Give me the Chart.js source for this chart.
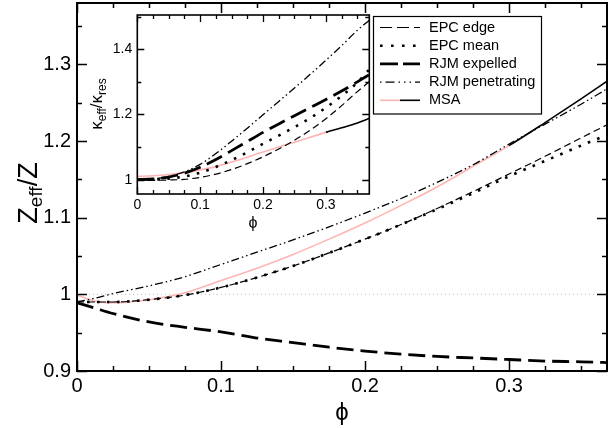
<!DOCTYPE html>
<html>
<head>
<meta charset="utf-8">
<script src="https://cdn.jsdelivr.net/npm/chart.js@4.4.0/dist/chart.umd.min.js"></script>
<style>
    body { margin: 0; background: #fff; }
    #wrap { position: relative; width: 608px; height: 428px; }
    #main { position: absolute; left: 0; top: 0; }
    #inset { position: absolute; left: 80px; top: 8px; }
</style>
</head>
<body>
<div id="wrap">
    <canvas id="main" width="608" height="428"></canvas>
    <canvas id="inset" width="295" height="232"></canvas>
</div>
<script>
// Main plot: Z_eff/Z vs phi
const phi = [0, 0.0125, 0.025, 0.05, 0.075, 0.1, 0.125, 0.15, 0.175, 0.2, 0.225, 0.25, 0.275, 0.3, 0.325, 0.35, 0.368];
const epcEdge = [0.99, 0.99, 0.99, 0.993, 0.999, 1.009, 1.022, 1.037, 1.054, 1.072, 1.091, 1.112, 1.134, 1.157, 1.18, 1.204, 1.221];
const epcMean = [0.99, 0.99, 0.99, 0.993, 0.999, 1.009, 1.022, 1.037, 1.054, 1.072, 1.091, 1.111, 1.132, 1.154, 1.174, 1.194, 1.208];
const rjmExpelled = [0.989, 0.982, 0.975, 0.964, 0.957, 0.951, 0.943, 0.937, 0.931, 0.926, 0.922, 0.919, 0.917, 0.915, 0.913, 0.912, 0.911];
const rjmPenetrating = [0.99, 0.995, 1.001, 1.011, 1.023, 1.039, 1.055, 1.071, 1.088, 1.106, 1.125, 1.146, 1.169, 1.196, 1.222, 1.248, 1.268];
const msa = [0.999, 0.991, 0.989, 0.993, 1.002, 1.018, 1.034, 1.052, 1.072, 1.093, 1.116, 1.140, 1.167, 1.194, 1.224, 1.255, 1.278];

// Inset: kappa_eff/kappa_res vs phi
const phiIn = [0, 0.025, 0.05, 0.075, 0.1, 0.125, 0.15, 0.175, 0.2, 0.225, 0.25, 0.275, 0.3, 0.325, 0.35, 0.369];
const inEpcEdge = [1.0, 0.998, 0.999, 1.001, 1.007, 1.017, 1.031, 1.049, 1.07, 1.094, 1.121, 1.152, 1.187, 1.227, 1.27, 1.30];
const inEpcMean = [1.0, 1.0, 1.003, 1.01, 1.021, 1.039, 1.06, 1.084, 1.11, 1.135, 1.161, 1.189, 1.221, 1.257, 1.298, 1.338];
const inRjmExpelled = [1.0, 1.002, 1.008, 1.02, 1.038, 1.062, 1.089, 1.117, 1.145, 1.171, 1.196, 1.221, 1.246, 1.272, 1.3, 1.322];
const inRjmPenetrating = [1.0, 1.002, 1.01, 1.024, 1.047, 1.08, 1.118, 1.158, 1.199, 1.24, 1.281, 1.323, 1.366, 1.411, 1.458, 1.489];
const inMsa = [1.01, 1.012, 1.016, 1.022, 1.03, 1.04, 1.054, 1.069, 1.085, 1.1, 1.115, 1.13, 1.145, 1.159, 1.174, 1.188];

// MSA drawn pink up to here, black beyond
const msaSwitch = 0.3;

// Ticks
const mainXTicks = [0, 0.1, 0.2, 0.3];
const mainXLabels = ['0', '0.1', '0.2', '0.3'];
const mainYTicks = [0.9, 1.0, 1.1, 1.2, 1.3];
const mainYLabels = ['0.9', '1', '1.1', '1.2', '1.3'];
const inXTicks = [0, 0.1, 0.2, 0.3];
const inXLabels = ['0', '0.1', '0.2', '0.3'];
const inYTicks = [1.0, 1.2, 1.4];
const inYLabels = ['1', '1.2', '1.4'];

const FONT = '"Liberation Sans", Arial, Helvetica, sans-serif';
const PINK = '#ffb4b4';

const styles =
{
    epcEdge: {width: 1.2, dash: [7, 4], legendDash: [12, 5]}
    ,epcMean: {width: 2.6, dash: [2.6, 7.4], legendDash: [2.6, 8.4]}
    ,rjmExpelled: {width: 2.8, dash: [17, 7], legendDash: [18, 5]}
    ,rjmPenetrating: {width: 1.3, dash: [8, 3, 1.5, 3, 1.5, 3], legendDash: [1.5, 4, 9, 4, 1.5, 4, 1.5, 4]}
    ,msa: {width: 1.6, dash: []}
};

const pts = (xs, ys) => xs.map((x, i) => ({x: x, y: ys[i]}));

const lineSet = (label, data, st, order) => (
{
    label: label
    ,data: data
    ,borderColor: '#000'
    ,borderWidth: st.width
    ,borderDash: st.dash
    ,borderCapStyle: 'butt'
    ,pointRadius: 0
    ,cubicInterpolationMode: 'monotone'
    ,fill: false
    ,order: order
});

const msaSet = (data) =>
{
    let ds = lineSet('MSA', data, styles.msa, 8);
    ds.borderColor = PINK;
    ds.segment = {borderColor: c => (c.p0.parsed.x >= msaSwitch - 1e-9 ? '#000' : PINK)};
    return ds;
};

// Text with subscripts
const drawRich = (ctx, parts, x, y, rot) =>
{
    ctx.save();
    ctx.translate(x, y);
    if(rot) ctx.rotate(rot);
    ctx.textBaseline = 'alphabetic';
    ctx.textAlign = 'left';
    ctx.fillStyle = '#000';
    let total = 0;
    parts.forEach(p => { ctx.font = p.size + 'px ' + FONT; p.w = ctx.measureText(p.t).width; total += p.w; });
    let cx = -total / 2;
    parts.forEach(p => { ctx.font = p.size + 'px ' + FONT; ctx.fillText(p.t, cx, p.dy || 0); cx += p.w; });
    ctx.restore();
};

// Frame with inward ticks on all four sides
const framePlugin =
{
    id: 'frame'
    ,beforeDatasetsDraw(chart)
    {
        const ca = chart.chartArea;
        chart.ctx.save();
        chart.ctx.fillStyle = '#fff';
        chart.ctx.fillRect(ca.left, ca.top, ca.width, ca.height);
        chart.ctx.restore();
    }
    ,afterDatasetsDraw(chart, args, o)
    {
        const ctx = chart.ctx, ca = chart.chartArea, sx = chart.scales.x, sy = chart.scales.y;
        ctx.save();
        ctx.strokeStyle = '#000';
        ctx.lineWidth = o.tickWidth;
        ctx.setLineDash([]);
        ctx.beginPath();
        for(let k = Math.ceil(sx.min / o.xMinor - 1e-6); k * o.xMinor <= sx.max + 1e-9; k++)
        {
            const len = (k % o.xEvery === 0) ? o.major : o.minor;
            const px = Math.round(sx.getPixelForValue(k * o.xMinor)) + 0.5;
            ctx.moveTo(px, ca.bottom); ctx.lineTo(px, ca.bottom - len);
            ctx.moveTo(px, ca.top); ctx.lineTo(px, ca.top + len);
        }
        for(let k = Math.ceil(sy.min / o.yMinor - 1e-6); k * o.yMinor <= sy.max + 1e-9; k++)
        {
            const len = (k % o.yEvery === 0) ? o.major : o.minor;
            const py = Math.round(sy.getPixelForValue(k * o.yMinor)) + 0.5;
            ctx.moveTo(ca.left, py); ctx.lineTo(ca.left + len, py);
            ctx.moveTo(ca.right, py); ctx.lineTo(ca.right - len, py);
        }
        ctx.stroke();
        ctx.lineWidth = o.frameWidth;
        ctx.strokeRect(ca.left, ca.top, ca.width, ca.height);
        ctx.restore();
    }
    ,afterDraw(chart, args, o)
    {
        (o.titles || []).forEach(t => drawRich(chart.ctx, t.parts, t.x, t.y, t.rot));
    }
};

// Legend box in the main plot
const legendItems =
[
    {label: 'EPC edge', st: styles.epcEdge}
    ,{label: 'EPC mean', st: styles.epcMean}
    ,{label: 'RJM expelled', st: styles.rjmExpelled}
    ,{label: 'RJM penetrating', st: styles.rjmPenetrating}
    ,{label: 'MSA', st: styles.msa, msa: true}
];

const legendPlugin =
{
    id: 'boxLegend'
    ,afterDraw(chart)
    {
        const ctx = chart.ctx;
        ctx.save();
        ctx.fillStyle = '#fff';
        ctx.fillRect(373.5, 16.5, 168, 97.5);
        ctx.strokeStyle = '#000';
        ctx.lineWidth = 1.2;
        ctx.strokeRect(373.5, 16.5, 168, 97.5);
        legendItems.forEach((it, i) =>
        {
            const y = 27.5 + i * 18.2;
            ctx.lineWidth = it.st.width;
            ctx.lineCap = 'butt';
            if(it.msa)
            {
                ctx.setLineDash([]);
                ctx.strokeStyle = PINK;
                ctx.beginPath(); ctx.moveTo(380, y); ctx.lineTo(400, y); ctx.stroke();
                ctx.strokeStyle = '#000';
                ctx.beginPath(); ctx.moveTo(400, y); ctx.lineTo(420, y); ctx.stroke();
            }
            else
            {
                ctx.setLineDash(it.st.legendDash);
                ctx.strokeStyle = '#000';
                ctx.beginPath(); ctx.moveTo(380, y); ctx.lineTo(420, y); ctx.stroke();
            }
            ctx.setLineDash([]);
            ctx.fillStyle = '#000';
            ctx.font = '14.5px ' + FONT;
            ctx.textBaseline = 'middle';
            ctx.fillText(it.label, 429, y);
        });
        ctx.restore();
    }
};

const axes = (xmin, xmax, ymin, ymax, xt, xl, yt, yl, fsize, ywidth, xheight, ypad, xpad) => (
{
    x:
    {
        type: 'linear', min: xmin, max: xmax
        ,grid: {display: false, drawTicks: false}
        ,border: {display: false}
        ,afterBuildTicks: a => { a.ticks = xt.map(v => ({value: v})); }
        ,ticks: {callback: (v, i) => xl[i], font: {family: FONT, size: fsize}, color: '#000', padding: xpad, maxRotation: 0, autoSkip: false}
        ,afterFit: s => { s.height = xheight; s.paddingLeft = 0; s.paddingRight = 0; }
    }
    ,y:
    {
        type: 'linear', min: ymin, max: ymax
        ,grid: {display: false, drawTicks: false}
        ,border: {display: false}
        ,afterBuildTicks: a => { a.ticks = yt.map(v => ({value: v})); }
        ,ticks: {callback: (v, i) => yl[i], font: {family: FONT, size: fsize}, color: '#000', padding: ypad, autoSkip: false}
        ,afterFit: s => { s.width = ywidth; s.paddingTop = 0; s.paddingBottom = 0; }
    }
});

// Main chart
new Chart(document.getElementById('main'),
{
    type: 'line'
    ,data:
    {
        datasets:
        [
            lineSet('EPC edge', pts(phi, epcEdge), styles.epcEdge, 2)
            ,lineSet('EPC mean', pts(phi, epcMean), styles.epcMean, 3)
            ,lineSet('RJM expelled', pts(phi, rjmExpelled), styles.rjmExpelled, 1)
            ,lineSet('RJM penetrating', pts(phi, rjmPenetrating), styles.rjmPenetrating, 4)
            ,msaSet(pts(phi, msa))
            ,{label: 'one', data: pts([0, 0.368], [1, 1]), borderColor: '#bdbdbd', borderWidth: 1, borderDash: [1, 3], pointRadius: 0, order: 9}
        ]
    }
    ,options:
    {
        responsive: false
        ,animation: false
        ,devicePixelRatio: 1
        ,layout: {padding: {top: 3, right: 1, left: 0, bottom: 0}}
        ,scales: axes(0, 0.368, 0.9, 1.38, mainXTicks, mainXLabels, mainYTicks, mainYLabels, 20, 77, 57, 6, 3)
        ,plugins:
        {
            legend: {display: false}
            ,tooltip: {enabled: false}
            ,frame:
            {
                xMinor: 0.025, xEvery: 4, yMinor: 0.05, yEvery: 2, major: 10, minor: 5, tickWidth: 1.5, frameWidth: 2
                ,titles:
                [
                    {parts: [{t: 'Z', size: 27}, {t: 'eff', size: 19, dy: 5}, {t: '/Z', size: 27}], x: 37, y: 193, rot: -Math.PI / 2}
                    ,{parts: [{t: 'ϕ', size: 24}], x: 342, y: 420}
                ]
            }
        }
    }
    ,plugins: [framePlugin, legendPlugin]
});

// Inset chart
new Chart(document.getElementById('inset'),
{
    type: 'line'
    ,data:
    {
        datasets:
        [
            lineSet('EPC edge', pts(phiIn, inEpcEdge), styles.epcEdge, 2)
            ,lineSet('EPC mean', pts(phiIn, inEpcMean), styles.epcMean, 3)
            ,lineSet('RJM expelled', pts(phiIn, inRjmExpelled), styles.rjmExpelled, 1)
            ,lineSet('RJM penetrating', pts(phiIn, inRjmPenetrating), styles.rjmPenetrating, 4)
            ,msaSet(pts(phiIn, inMsa))
        ]
    }
    ,options:
    {
        responsive: false
        ,animation: false
        ,devicePixelRatio: 1
        ,layout: {padding: {top: 7, right: 5.7, left: 0, bottom: 0}}
        ,scales: axes(0, 0.369, 0.956, 1.505, inXTicks, inXLabels, inYTicks, inYLabels, 14, 57.3, 46, 5, 3)
        ,plugins:
        {
            legend: {display: false}
            ,tooltip: {enabled: false}
            ,frame:
            {
                xMinor: 0.025, xEvery: 4, yMinor: 0.1, yEvery: 2, major: 7, minor: 4, tickWidth: 1.3, frameWidth: 1.6
                ,titles:
                [
                    {parts: [{t: 'κ', size: 17}, {t: 'eff', size: 12, dy: 4}, {t: '/κ', size: 17}, {t: 'res', size: 12, dy: 4}], x: 21.5, y: 96, rot: -Math.PI / 2}
                    ,{parts: [{t: 'ϕ', size: 16}], x: 173, y: 220}
                ]
            }
        }
    }
    ,plugins: [framePlugin]
});
</script>
</body>
</html>
